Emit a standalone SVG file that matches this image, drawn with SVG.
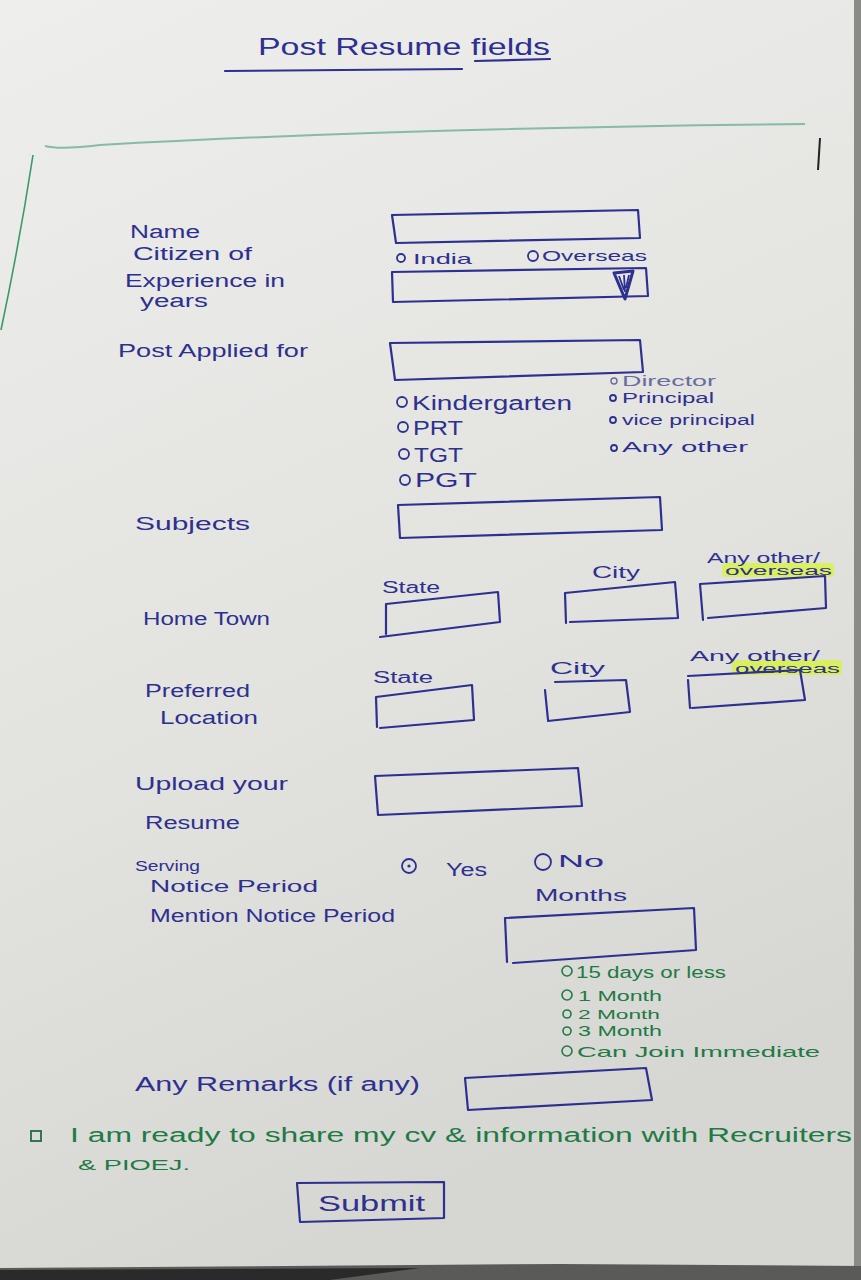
<svg xmlns="http://www.w3.org/2000/svg" width="861" height="1280" viewBox="0 0 861 1280">
<defs>
<linearGradient id="paper" x1="0" y1="0" x2="0.3" y2="1">
<stop offset="0" stop-color="#eeeeec"/>
<stop offset="0.6" stop-color="#e2e2df"/>
<stop offset="1" stop-color="#d6d6d2"/>
</linearGradient>
<style>
.t{font-family:"Liberation Sans","DejaVu Sans",sans-serif;fill:#2e3090;}
.g{font-family:"Liberation Sans","DejaVu Sans",sans-serif;fill:#1f7a45;}
.f{font-family:"Liberation Sans","DejaVu Sans",sans-serif;fill:#6a6c9e;}
.box{fill:none;stroke:#2e3090;stroke-width:2.2;stroke-linejoin:round;stroke-linecap:round;}
.rad{fill:none;stroke:#2e3090;stroke-width:1.8;}
.gr{fill:none;stroke:#1f7a45;stroke-width:1.6;}
.hl{fill:#d9f24a;opacity:0.85;}
</style>
</defs>
<rect x="0" y="0" width="861" height="1280" fill="url(#paper)"/>
<rect x="854" y="0" width="7" height="1280" fill="#8a8a86"/>
<polygon points="0,1268 560,1264 861,1266 861,1280 0,1280" fill="#5a5a58"/>
<polygon points="0,1270 420,1268 330,1280 0,1280" fill="#2a2a2a"/>

<g id="decor">
<path d="M225,71 L462,69" class="box" stroke-width="1.6"/>
<path d="M475,61 L550,59" class="box" stroke-width="1.6"/>
<path d="M45,146 Q60,150 100,145 Q400,128 805,124" fill="none" stroke="#86bba6" stroke-width="2"/>
<path d="M33,155 Q20,240 1,330" fill="none" stroke="#3a9a6a" stroke-width="1.6"/>
<path d="M820,138 L818,170" fill="none" stroke="#222" stroke-width="2"/>
</g>
<g id="connectors"></g>

<g id="title">
<text class="t" x="258" y="55" font-size="24" textLength="292" lengthAdjust="spacingAndGlyphs">Post Resume fields</text>
</g>

<g id="name">
<text class="t" x="130" y="238" font-size="18" textLength="70" lengthAdjust="spacingAndGlyphs">Name</text>
<path class="box" d="M392,215 L638,210 L640,238 L396,243 Z"/>
</g>

<g id="citizen">
<text class="t" x="133" y="260" font-size="18" textLength="119" lengthAdjust="spacingAndGlyphs">Citizen of</text>
<circle class="rad" cx="401" cy="258" r="4"/>
<text class="t" x="413" y="264" font-size="15" textLength="59" lengthAdjust="spacingAndGlyphs">India</text>
<circle class="rad" cx="533" cy="256" r="5"/>
<text class="t" x="542" y="261" font-size="15" textLength="105" lengthAdjust="spacingAndGlyphs">Overseas</text>
</g>

<g id="experience">
<text class="t" x="125" y="287" font-size="18" textLength="160" lengthAdjust="spacingAndGlyphs">Experience in</text>
<text class="t" x="140" y="307" font-size="18" textLength="68" lengthAdjust="spacingAndGlyphs">years</text>
<path class="box" d="M392,272 L646,268 L648,296 L393,302 Z"/>
<path d="M614,273 L633,271 L625,299 Z" fill="none" stroke="#2e3090" stroke-width="3" stroke-linejoin="round"/>
<path d="M619,276 L624,290 M624,275 L625,292 M629,275 L626,288" fill="none" stroke="#2e3090" stroke-width="1.8"/>
</g>

<g id="post">
<text class="t" x="118" y="357" font-size="18" textLength="190" lengthAdjust="spacingAndGlyphs">Post Applied for</text>
<path class="box" d="M390,343 L640,340 L643,372 L395,380 Z"/>
</g>

<g id="post-options">
<circle class="rad" cx="402" cy="402" r="5"/>
<text class="t" x="412" y="410" font-size="20" textLength="160" lengthAdjust="spacingAndGlyphs">Kindergarten</text>
<circle class="rad" cx="403" cy="427" r="5"/>
<text class="t" x="413" y="435" font-size="20" textLength="50" lengthAdjust="spacingAndGlyphs">PRT</text>
<circle class="rad" cx="404" cy="454" r="5"/>
<text class="t" x="414" y="462" font-size="20" textLength="49" lengthAdjust="spacingAndGlyphs">TGT</text>
<circle class="rad" cx="405" cy="480" r="5"/>
<text class="t" x="415" y="487" font-size="20" textLength="62" lengthAdjust="spacingAndGlyphs">PGT</text>
</g>

<g id="post-options-2">
<circle cx="614" cy="381" r="3" fill="none" stroke="#6a6c9e" stroke-width="1.4"/>
<text class="f" x="622" y="386" font-size="14" textLength="94" lengthAdjust="spacingAndGlyphs">Director</text>
<circle class="rad" cx="613" cy="398" r="3"/>
<text class="t" x="622" y="403" font-size="14" textLength="92" lengthAdjust="spacingAndGlyphs">Principal</text>
<circle class="rad" cx="613" cy="420" r="3"/>
<text class="t" x="622" y="425" font-size="14" textLength="133" lengthAdjust="spacingAndGlyphs">vice principal</text>
<circle class="rad" cx="614" cy="448" r="3"/>
<text class="t" x="622" y="452" font-size="14" textLength="126" lengthAdjust="spacingAndGlyphs">Any other</text>
</g>

<g id="subjects">
<text class="t" x="135" y="530" font-size="18" textLength="115" lengthAdjust="spacingAndGlyphs">Subjects</text>
<path class="box" d="M398,505 L660,497 L662,530 L400,538 Z"/>
</g>

<g id="hometown">
<text class="t" x="143" y="625" font-size="18" textLength="127" lengthAdjust="spacingAndGlyphs">Home Town</text>
<text class="t" x="382" y="593" font-size="16" textLength="58" lengthAdjust="spacingAndGlyphs">State</text>
<path class="box" d="M386,604 L498,592 L500,622 L380,637 M386,604 L386,634"/>
<text class="t" x="592" y="578" font-size="16" textLength="48" lengthAdjust="spacingAndGlyphs">City</text>
<path class="box" d="M565,593 L675,582 L678,618 L570,622 M565,593 L566,623"/>
<rect class="hl" x="722" y="563" width="112" height="14" rx="4"/>
<text class="t" x="707" y="563" font-size="14" textLength="113" lengthAdjust="spacingAndGlyphs">Any other/</text>
<text class="t" x="725" y="575" font-size="12" textLength="107" lengthAdjust="spacingAndGlyphs">overseas</text>
<path class="box" d="M700,584 L825,576 L826,608 L708,618 M700,584 L703,620"/>
</g>

<g id="preferred">
<text class="t" x="145" y="697" font-size="18" textLength="105" lengthAdjust="spacingAndGlyphs">Preferred</text>
<text class="t" x="160" y="724" font-size="18" textLength="98" lengthAdjust="spacingAndGlyphs">Location</text>
<text class="t" x="373" y="683" font-size="16" textLength="60" lengthAdjust="spacingAndGlyphs">State</text>
<path class="box" d="M376,697 L472,685 L474,720 L380,728 M376,697 L377,727"/>
<text class="t" x="550" y="674" font-size="16" textLength="55" lengthAdjust="spacingAndGlyphs">City</text>
<path class="box" d="M555,682 L626,680 L630,712 L548,721 M545,690 L548,720"/>
<rect class="hl" x="732" y="660" width="110" height="15" rx="4"/>
<text class="t" x="690" y="661" font-size="14" textLength="130" lengthAdjust="spacingAndGlyphs">Any other/</text>
<text class="t" x="735" y="673" font-size="12" textLength="105" lengthAdjust="spacingAndGlyphs">overseas</text>
<path class="box" d="M688,676 L800,670 L805,700 L692,708 M688,680 L690,708"/>
</g>

<g id="upload">
<text class="t" x="135" y="790" font-size="18" textLength="153" lengthAdjust="spacingAndGlyphs">Upload your</text>
<text class="t" x="145" y="829" font-size="18" textLength="95" lengthAdjust="spacingAndGlyphs">Resume</text>
<path class="box" d="M375,776 L578,768 L582,806 L378,815 Z"/>
</g>

<g id="notice">
<text class="t" x="135" y="871" font-size="14" textLength="65" lengthAdjust="spacingAndGlyphs">Serving</text>
<text class="t" x="150" y="892" font-size="16" textLength="168" lengthAdjust="spacingAndGlyphs">Notice Period</text>
<circle class="rad" cx="409" cy="866" r="7"/>
<circle cx="409" cy="866" r="1.6" fill="#2e3090"/>
<text class="t" x="446" y="876" font-size="18" textLength="41" lengthAdjust="spacingAndGlyphs">Yes</text>
<circle class="rad" cx="543" cy="862" r="8"/>
<text class="t" x="558" y="867" font-size="16" textLength="46" lengthAdjust="spacingAndGlyphs">No</text>
</g>

<g id="mention">
<text class="t" x="150" y="922" font-size="18" textLength="245" lengthAdjust="spacingAndGlyphs">Mention Notice Period</text>
<text class="t" x="535" y="901" font-size="17" textLength="92" lengthAdjust="spacingAndGlyphs">Months</text>
<path class="box" d="M505,918 L694,908 L696,950 L513,963 M505,918 L507,962"/>
</g>

<g id="notice-options">
<circle class="gr" cx="567" cy="971" r="5"/>
<text class="g" x="576" y="978" font-size="16" textLength="150" lengthAdjust="spacingAndGlyphs">15 days or less</text>
<circle class="gr" cx="567" cy="995" r="5"/>
<text class="g" x="578" y="1001" font-size="15" textLength="84" lengthAdjust="spacingAndGlyphs">1 Month</text>
<circle class="gr" cx="567" cy="1014" r="4"/>
<text class="g" x="578" y="1019" font-size="13" textLength="82" lengthAdjust="spacingAndGlyphs">2 Month</text>
<circle class="gr" cx="567" cy="1031" r="4"/>
<text class="g" x="578" y="1036" font-size="14" textLength="84" lengthAdjust="spacingAndGlyphs">3 Month</text>
<circle class="gr" cx="567" cy="1051" r="5"/>
<text class="g" x="577" y="1057" font-size="15" textLength="243" lengthAdjust="spacingAndGlyphs">Can Join Immediate</text>
</g>

<g id="remarks">
<text class="t" x="135" y="1091" font-size="20" textLength="285" lengthAdjust="spacingAndGlyphs">Any Remarks (if any)</text>
<path class="box" d="M465,1078 L646,1068 L652,1100 L468,1110 M465,1078 L468,1110"/>
</g>

<g id="consent">
<rect x="31" y="1131" width="10" height="10" fill="none" stroke="#1f6a50" stroke-width="1.8"/>
<text class="g" x="70" y="1142" font-size="20" textLength="782" lengthAdjust="spacingAndGlyphs">I am ready to share my cv &amp; information with Recruiters</text>
<text class="g" x="78" y="1170" font-size="15" textLength="112" lengthAdjust="spacingAndGlyphs">&amp; PIOEJ.</text>
</g>

<g id="submit">
<path class="box" d="M297,1183 L444,1182 L444,1218 L300,1222 Z" stroke-width="1.8"/>
<text class="t" x="318" y="1211" font-size="22" textLength="107" lengthAdjust="spacingAndGlyphs">Submit</text>
</g>
</svg>
